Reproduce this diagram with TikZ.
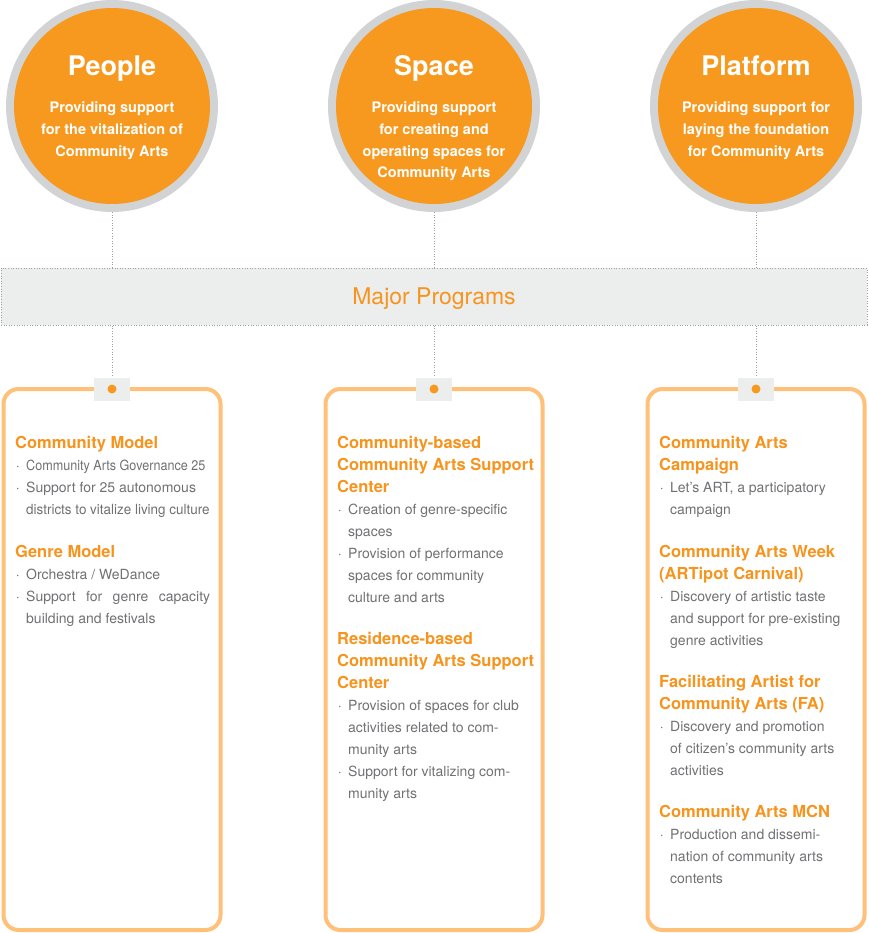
\documentclass[tikz,border=0pt]{standalone}
\usepackage{fontspec}
\usepackage{graphicx}
\setmainfont{TeX Gyre Heros}
\definecolor{orng}{HTML}{F7991F}
\definecolor{headorng}{HTML}{F7941D}
\definecolor{boxorng}{HTML}{FFC07A}
\definecolor{ringgray}{HTML}{D1D3D4}
\definecolor{bandgray}{HTML}{ECEDED}
\definecolor{dotgray}{HTML}{9D9FA2}
\definecolor{bodygray}{HTML}{707174}
\newcounter{lnno}
\tikzset{
  ring/.style={circle, fill=ringgray, minimum size=212pt, inner sep=0pt},
  core/.style={circle, fill=orng, minimum size=196pt, inner sep=0pt},
  dotln/.style={draw=dotgray, line width=1pt, dash pattern=on 1pt off 1.6pt},
  bandbox/.style={rectangle, fill=bandgray, draw=dotgray, line width=1pt, dash pattern=on 1pt off 1.6pt, minimum width=866pt, minimum height=57pt, inner sep=0pt},
  progbox/.style={rectangle, draw=boxorng, line width=4pt, rounded corners=15pt, minimum width=217pt, minimum height=541pt, inner sep=0pt, fill=white},
  tabsq/.style={rectangle, fill=bandgray, minimum width=36pt, minimum height=23pt, inner sep=0pt},
  tabdot/.style={circle, fill=orng, minimum size=9pt, inner sep=0pt},
  titletxt/.style={text=white, font=\bfseries\fontsize{27}{30}\selectfont, inner sep=0pt, anchor=base},
  subtxt/.style={text=white, font=\bfseries\fontsize{14.5}{17}\selectfont, inner sep=0pt, anchor=base},
  majortxt/.style={text=headorng, font=\fontsize{23}{26}\selectfont, inner sep=0pt, anchor=base},
  hdtxt/.style={text=headorng, font=\bfseries\fontsize{16.5}{20}\selectfont, inner sep=0pt, anchor=base west},
  bdtxt/.style={text=bodygray, font=\fontsize{14}{17}\selectfont, inner sep=0pt, anchor=base west},
}
\newcommand\mkctr[3]{\stepcounter{lnno}\node[subtxt] (C\arabic{lnno}) at (#1,#2) {#3};}
\newcommand\mkhead[3]{\stepcounter{lnno}\node[hdtxt] (H\arabic{lnno}) at (#1,#2) {#3};}
\newcommand\mkbody[3]{\stepcounter{lnno}\node[bdtxt] (B\arabic{lnno}) at (#1,#2) {#3};}
\newcommand\mkbullet[3]{\stepcounter{lnno}\node[bdtxt] (B\arabic{lnno}) at (#1,#2) {\llap{·\hspace{6.5pt}}#3};}
\begin{document}
\begin{tikzpicture}[x=1pt,y=-1pt]
\useasboundingbox (0,0) rectangle (868,933);
% band
\node[bandbox] (band) at (434,296.5) {};
\node[majortxt] (major) at (434,304.3) {Major Programs};
% circles
\node[ring] (r1) at (112,106) {};
\node[core] (c1) at (112,106) {};
\node[ring] (r2) at (434,106) {};
\node[core] (c2) at (434,106) {};
\node[ring] (r3) at (756,106) {};
\node[core] (c3) at (756,106) {};
\node[titletxt] (t1) at (112,76) {People};
\node[titletxt] (t2) at (434,76) {Space};
\node[titletxt] (t3) at (756,76) {Platform};
\mkctr{112}{113}{Providing support}
\mkctr{112}{135}{for the vitalization of}
\mkctr{112}{156.5}{Community Arts}
\mkctr{434}{113}{Providing support}
\mkctr{434}{135}{for creating and}
\mkctr{434}{156.5}{operating spaces for}
\mkctr{434}{178}{Community Arts}
\mkctr{756}{113}{Providing support for}
\mkctr{756}{135}{laying the foundation}
\mkctr{756}{156.5}{for Community Arts}
% connectors circles -> band
\draw[dotln] (r1.south) -- (r1.south |- band.north);
\draw[dotln] (r2.south) -- (r2.south |- band.north);
\draw[dotln] (r3.south) -- (r3.south |- band.north);
% boxes
\node[progbox] (b1) at (112,659.5) {};
\node[progbox] (b2) at (434,659.5) {};
\node[progbox] (b3) at (756,659.5) {};
\node[tabsq] (s1) at (112,389) {};
\node[tabsq] (s2) at (434,389) {};
\node[tabsq] (s3) at (756,389) {};
\node[tabdot] (d1) at (s1) {};
\node[tabdot] (d2) at (s2) {};
\node[tabdot] (d3) at (s3) {};
\draw[dotln] (band.south -| s1.north) -- (s1.north);
\draw[dotln] (band.south -| s2.north) -- (s2.north);
\draw[dotln] (band.south -| s3.north) -- (s3.north);
% left column
\mkhead{15}{448}{Community Model}
\mkbullet{26}{470}{\scalebox{0.9}[1]{Community Arts Governance 25}}
\mkbullet{26}{492}{Support for 25 autonomous}
\mkbody{26}{514}{\scalebox{0.96}[1]{districts to vitalize living culture}}
\mkhead{15}{557}{Genre Model}
\mkbullet{26}{579}{Orchestra / WeDance}
\mkbullet{26}{601}{\makebox[184pt][s]{Support for genre capacity}}
\mkbody{26}{623}{building and festivals}
% middle column
\mkhead{337}{448}{Community-based}
\mkhead{337}{470}{Community Arts Support}
\mkhead{337}{492}{Center}
\mkbullet{348}{514}{Creation of genre-specific}
\mkbody{348}{536}{spaces}
\mkbullet{348}{558}{Provision of performance}
\mkbody{348}{580}{spaces for community}
\mkbody{348}{602}{culture and arts}
\mkhead{337}{644}{Residence-based}
\mkhead{337}{666}{Community Arts Support}
\mkhead{337}{688}{Center}
\mkbullet{348}{710}{Provision of spaces for club}
\mkbody{348}{732}{activities related to com-}
\mkbody{348}{754}{munity arts}
\mkbullet{348}{776}{Support for vitalizing com-}
\mkbody{348}{798}{munity arts}
% right column
\mkhead{659}{448}{Community Arts}
\mkhead{659}{470}{Campaign}
\mkbullet{670}{492}{Let’s ART, a participatory}
\mkbody{670}{514}{campaign}
\mkhead{659}{557}{Community Arts Week}
\mkhead{659}{579}{(ARTipot Carnival)}
\mkbullet{670}{601}{Discovery of artistic taste}
\mkbody{670}{623}{and support for pre-existing}
\mkbody{670}{645}{genre activities}
\mkhead{659}{687}{Facilitating Artist for}
\mkhead{659}{709}{Community Arts (FA)}
\mkbullet{670}{731}{Discovery and promotion}
\mkbody{670}{753}{of citizen’s community arts}
\mkbody{670}{775}{activities}
\mkhead{659}{817}{Community Arts MCN}
\mkbullet{670}{839}{Production and dissemi-}
\mkbody{670}{861}{nation of community arts}
\mkbody{670}{883}{contents}
\end{tikzpicture}
\end{document}
